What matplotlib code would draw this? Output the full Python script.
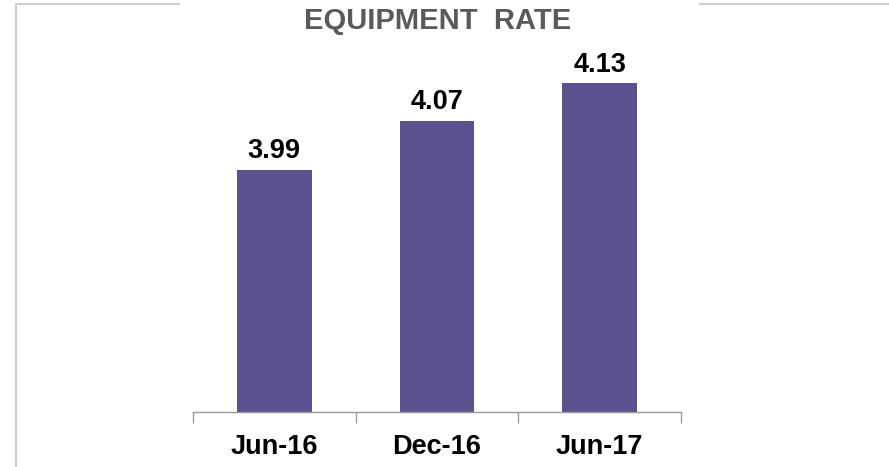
import matplotlib
matplotlib.use("Agg")
import matplotlib.pyplot as plt
from matplotlib.lines import Line2D

# data
periods = ["Jun-16", "Dec-16", "Jun-17"]
rates = [3.99, 4.07, 4.13]
title = "EQUIPMENT  RATE"

W, H = 889, 467
plt.rcParams['font.family'] = ['Liberation Sans', 'DejaVu Sans']

fig = plt.figure(figsize=(W / 100, H / 100), dpi=100)
# axes box in pixels: x 193..681, y 40..412 (from top)
ax = fig.add_axes([193 / W, 1 - 412 / H, (681 - 193) / W, (412 - 40) / H])

x = range(len(periods))
ax.bar(x, rates, width=0.46, color="#5A518E", zorder=2)
for xi, v in zip(x, rates):
    ax.annotate(f"{v:.2f}", (xi, v), xytext=(0, 8.5), textcoords="offset points",
                ha="center", va="baseline", fontsize=19.5, fontweight="bold",
                color="black")

ax.set_xlim(-0.5, 2.5)
ax.set_ylim(3.6, 4.2)
ax.set_yticks([])
ax.set_xticks([-0.5, 0.5, 1.5, 2.5])
ax.set_xticklabels([])
ax.set_xticks(list(x), minor=True)
ax.set_xticklabels(periods, minor=True, fontsize=19.5, fontweight="bold")
ax.tick_params(axis="x", which="major", length=8, width=1, color="#9A9A9A")
ax.tick_params(axis="x", which="minor", length=0, pad=16)
for s in ["top", "right", "left"]:
    ax.spines[s].set_visible(False)
ax.spines["bottom"].set_color("#9A9A9A")
ax.spines["bottom"].set_linewidth(1)

fig.text(438 / W, 1 - 21 / H, title, ha="center", va="center",
         fontsize=21, fontweight="bold", color="#5A5A5A")

# outer frame fragments
frame = "#CFCFCF"
fig.add_artist(Line2D([16 / W, 16 / W], [0, 1 - 4 / H], color=frame, lw=1.5,
                      transform=fig.transFigure))
fig.add_artist(Line2D([16 / W, 179 / W], [1 - 4 / H, 1 - 4 / H], color=frame, lw=1.5,
                      transform=fig.transFigure))
fig.add_artist(Line2D([700 / W, 1], [1 - 4 / H, 1 - 4 / H], color=frame, lw=1.5,
                      transform=fig.transFigure))

fig.savefig("out.png", dpi=100)
